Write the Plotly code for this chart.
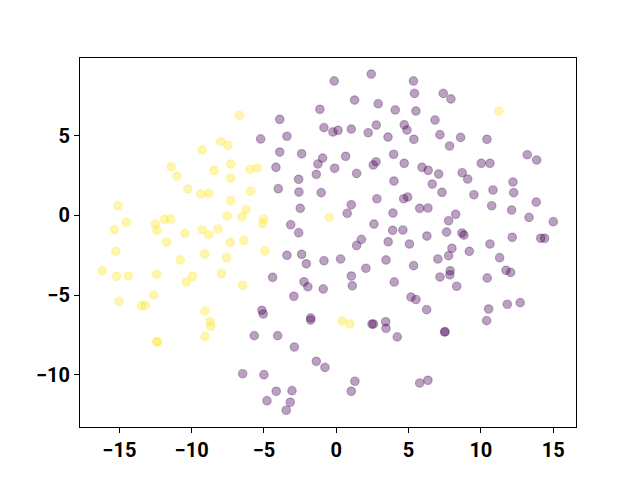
import plotly.graph_objects as go

# class 0 (purple)
purple_x = [-6.47, -0.14, 2.42, 5.34, 1.27, 2.90, 4.08, 5.41, -1.13, -3.91, -0.85, -0.23, 0.12, 1.04,
            2.21, 2.77, 3.58, 4.70, 4.89, 5.37, -5.23, -3.41, -3.91, -2.39, -0.94, -1.27, 0.65, -0.11,
            -1.38, 1.41, 2.75, 2.56, 3.97, 4.70, 3.99, -4.17, -2.60, -4.01, -2.58, -1.04, -2.49, 1.04,
            0.76, 2.81, 4.66, 4.94, 3.92, -3.15, -2.60, 1.74, 2.61, 3.90, 4.61, 3.59, 5.06, 1.41,
            -3.41, -2.39, -2.07, -0.85, 0.30, 2.05, 3.44, 5.35, -4.40, -2.23, -1.96, -0.90, 1.04, 1.11,
            4.01, 5.17, -2.93, -5.14, -5.05, -1.77, -1.77, 2.47, 2.57, 3.42, 3.44, 4.22, -5.67, -4.05,
            -2.90, -1.38, -0.78, -5.00, 1.29, 1.04, -4.15, -3.06, -4.79, -3.18, -3.46,
            5.51, 7.40, 7.93, 6.83, 7.17, 8.60, 7.84, 10.42, 13.21, 13.86, 10.03, 10.63, 5.93, 6.36,
            7.08, 8.71, 9.09, 6.64, 7.31, 9.52, 10.84, 12.22, 12.27, 5.77, 6.34, 10.75, 12.13, 13.83,
            13.33, 15.01, 8.26, 7.77, 7.63, 6.27, 8.69, 8.83, 10.63, 12.17, 14.14, 14.41,
            7.03, 7.77, 8.00, 9.20, 11.30, 11.74, 12.06, 7.17, 7.88, 7.86, 8.33, 10.44, 5.51, 6.25,
            10.54, 11.83, 12.72, 10.40, 7.50, 7.52, 5.77, 6.34]
purple_y = [-9.94, 8.43, 8.86, 8.43, 7.23, 7.00, 6.61, 7.65, 6.65, 6.02, 5.50, 5.23, 5.33, 5.41,
            5.18, 5.66, 4.91, 5.68, 5.35, 4.77, 4.79, 4.96, 3.97, 3.86, 3.59, 3.22, 3.70, 2.95,
            2.57, 2.63, 3.36, 3.16, 3.83, 3.26, 2.15, 3.01, 2.26, 1.67, 1.46, 1.42, 0.44, 0.66,
            0.13, 1.04, 1.04, 1.15, 0.14, -0.59, -1.09, -1.51, -0.55, -0.94, -0.92, -1.66, -1.80, -1.89,
            -2.51, -2.45, -3.04, -2.85, -2.74, -3.32, -2.80, -3.16, -3.89, -4.17, -4.48, -4.62, -3.81, -4.42,
            -4.18, -5.13, -5.08, -5.96, -6.19, -6.44, -6.57, -6.82, -6.82, -6.68, -7.09, -7.63, -7.55, -7.55,
            -8.26, -9.16, -9.54, -10.00, -10.41, -11.04, -11.04, -11.00, -11.63, -11.73, -12.23,
            6.54, 7.65, 7.30, 5.98, 5.06, 4.89, 4.35, 4.77, 3.80, 3.47, 3.26, 3.26, 3.01, 2.82,
            2.59, 2.67, 2.28, 1.96, 1.44, 1.29, 1.59, 2.09, 1.42, 0.44, 0.46, 0.60, 0.33, 0.83,
            -0.13, -0.40, 0.06, -0.34, -1.05, -1.30, -1.11, -1.24, -1.80, -1.38, -1.44, -1.44,
            -2.74, -2.53, -2.07, -2.26, -2.66, -3.45, -3.58, -3.87, -3.48, -3.73, -4.45, -3.93, -5.28, -5.92,
            -5.88, -5.58, -5.48, -6.61, -7.32, -7.30, -10.52, -10.35]

# class 1 (yellow)
yellow_x = [-6.71, -7.99, -7.49, -9.27, -11.41, -11.02, -8.44, -7.30, -7.30, -5.95, -10.28, -9.38,
            -8.82, -5.93, -7.30, -6.24, -7.56, -6.52, -15.10, -14.52, -15.35, -12.52, -12.40, -11.87,
            -11.45, -10.46, -9.27, -8.82, -8.18, -11.73, -7.33, -6.38, -15.24, -16.18, -15.19, -14.38,
            -12.42, -10.79, -9.10, -7.58, -9.93, -10.37, -7.93, -6.47, -12.63, -15.03, -13.46, -13.21,
            -9.08, -8.73, -8.67, -9.08, -12.40, -12.38, -5.46, -5.02, -5.09, -0.48, -4.93, 0.41, 0.95,
            11.25]
yellow_y = [6.27, 4.62, 4.39, 4.10, 3.05, 2.45, 2.82, 3.22, 2.34, 2.89, 1.65, 1.34,
            1.38, 1.51, 0.92, 0.35, -0.04, -0.09, 0.60, -0.44, -0.90, -0.55, -0.94, -0.25,
            -0.23, -1.13, -0.90, -1.22, -0.86, -1.68, -1.71, -1.58, -2.26, -3.48, -3.83, -3.81,
            -3.70, -2.80, -2.43, -2.66, -3.83, -4.18, -3.66, -4.39, -5.00, -5.40, -5.67, -5.65,
            -6.00, -6.68, -6.96, -7.59, -7.93, -7.95, 2.97, -0.23, -0.53, -0.13, -2.22, -6.63, -6.80,
            6.54]

x_ticks = [-15, -10, -5, 0, 5, 10, 15]
x_tick_labels = ["−15", "−10", "−5", "0", "5", "10", "15"]
y_ticks = [-10, -5, 0, 5]
y_tick_labels = ["−10", "−5", "0", "5"]

purple = (68, 1, 84)
yellow = (253, 231, 37)
alpha = 0.37


def rgba(c, a):
    return f"rgba({c[0]},{c[1]},{c[2]},{a})"


fig = go.Figure()
for xs, ys, c in [(purple_x, purple_y, purple), (yellow_x, yellow_y, yellow)]:
    fig.add_trace(go.Scatter(
        x=xs, y=ys, mode="markers",
        marker=dict(size=8.5, color=rgba(c, alpha),
                    line=dict(color=rgba(c, alpha * 0.8), width=1.2)),
        showlegend=False, hoverinfo="skip"))

axis_common = dict(
    showgrid=False, zeroline=False, showline=True, linecolor="black", linewidth=1.1,
    mirror=True, ticks="outside", ticklen=5, tickwidth=1.1, tickcolor="black",
    tickfont=dict(family="Roboto", size=20, color="black", weight="bold"),
)
fig.update_xaxes(range=[-17.72, 16.58], tickvals=x_ticks, ticktext=x_tick_labels, **axis_common)
fig.update_yaxes(range=[-13.28, 9.87], tickvals=y_ticks, ticktext=y_tick_labels, **axis_common)
# the page body adds an 8px offset, so margins are reduced by 8px on top/left
fig.update_layout(
    width=632, height=472,
    margin=dict(l=72, r=64, t=50, b=53, autoexpand=False),
    plot_bgcolor="white", paper_bgcolor="white",
)
fig.write_html("out.html")
